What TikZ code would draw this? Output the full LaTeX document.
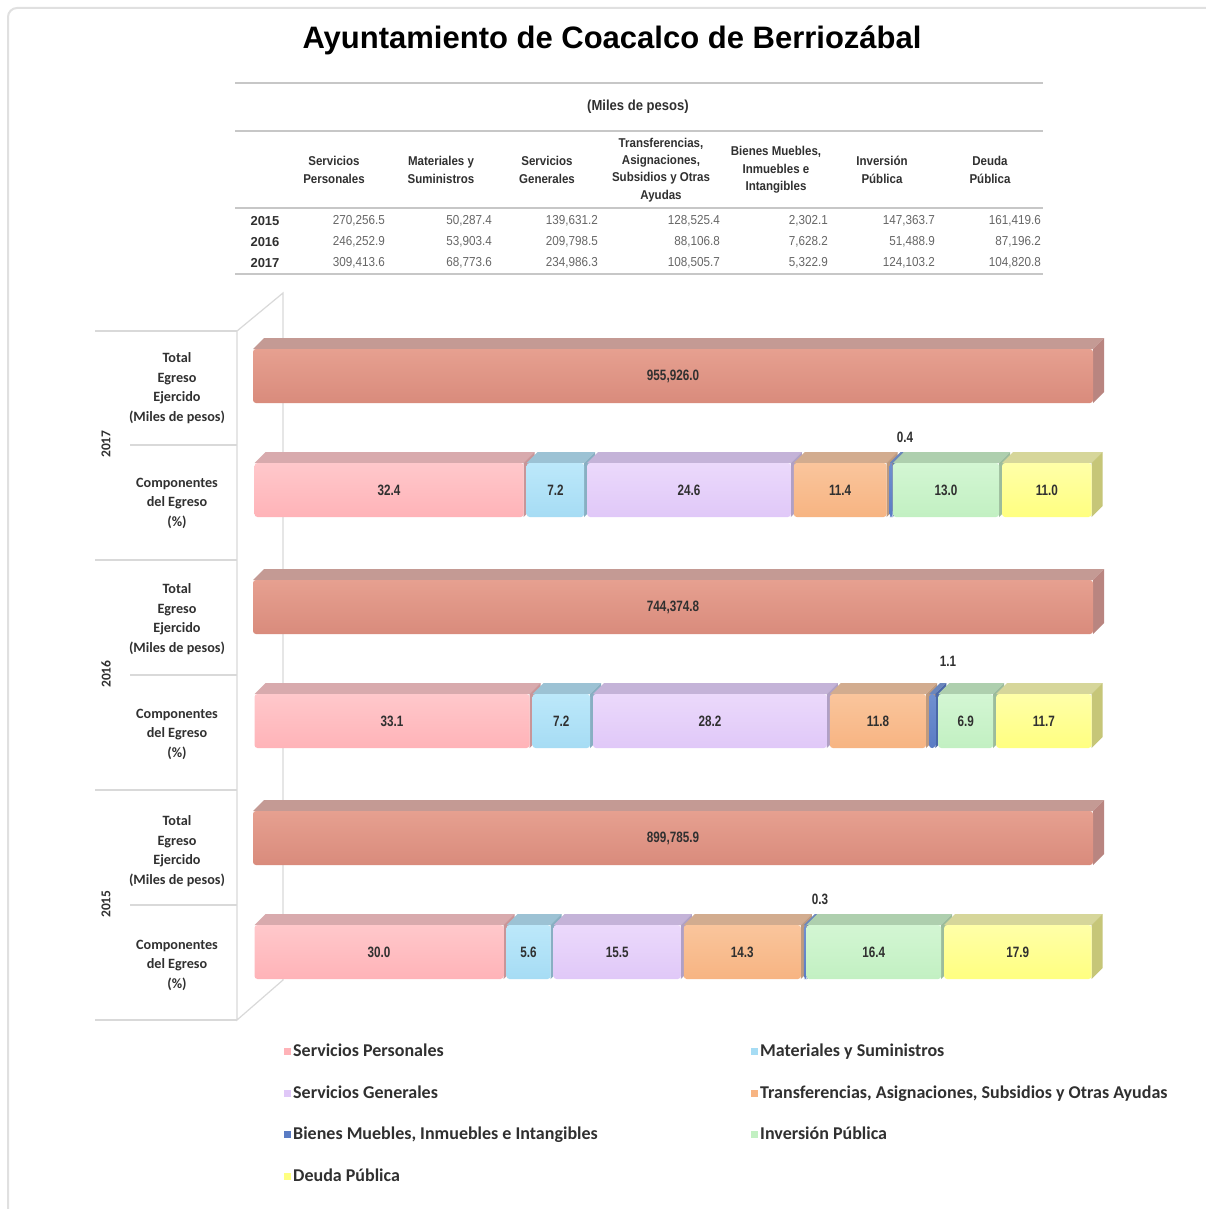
\documentclass[tikz,border=0pt]{standalone}
\usepackage{fontspec}
\setmainfont{Liberation Sans}
\newfontfamily\carl{Carlito}
\newfontfamily\narrowb[FakeStretch=0.78]{Liberation Sans}
\newfontfamily\narrowt[FakeStretch=0.9]{Liberation Sans}
\definecolor{tot}{HTML}{D98B7C}\definecolor{tothi}{HTML}{E6A090}\definecolor{tottop}{HTML}{C49A94}\definecolor{totside}{HTML}{B98580}
\definecolor{sp}{HTML}{FFB3B8}\definecolor{sphi}{HTML}{FFC8CB}\definecolor{sptop}{HTML}{D8AAAD}\definecolor{spside}{HTML}{C99598}
\definecolor{mat}{HTML}{A6DCF4}\definecolor{mathi}{HTML}{BCE8FA}\definecolor{mattop}{HTML}{9CC2D4}\definecolor{matside}{HTML}{88AFC2}
\definecolor{gen}{HTML}{E0C8F8}\definecolor{genhi}{HTML}{EBD9FB}\definecolor{gentop}{HTML}{C4B3D8}\definecolor{genside}{HTML}{B0A0C5}
\definecolor{tra}{HTML}{F7B482}\definecolor{trahi}{HTML}{FAC59C}\definecolor{tratop}{HTML}{D2AC8F}\definecolor{traside}{HTML}{BE9A7E}
\definecolor{bie}{HTML}{5A7CC4}\definecolor{biehi}{HTML}{7090D0}\definecolor{bietop}{HTML}{6A86BC}\definecolor{bieside}{HTML}{4A68A8}
\definecolor{inv}{HTML}{C2F0C2}\definecolor{invhi}{HTML}{D3F6D3}\definecolor{invtop}{HTML}{AECFAE}\definecolor{invside}{HTML}{9CBC9C}
\definecolor{deu}{HTML}{FFFF80}\definecolor{deuhi}{HTML}{FFFFA8}\definecolor{deutop}{HTML}{D6D69A}\definecolor{deuside}{HTML}{C6C678}
\definecolor{txt}{HTML}{303030}
\newcommand\bbox[4]{%
  \fill[#4top] (#1,#3-27) -- (#1+11,#3-38) -- (#2+11,#3-38) -- (#2,#3-27) -- cycle;
  \fill[#4side] (#2,#3-27) -- (#2+11,#3-38) -- (#2+11,#3+16) -- (#2,#3+27) -- cycle;
  \shade[top color=#4hi, bottom color=#4, rounded corners=3] (#1,#3-27) rectangle (#2,#3+27);
}
\newcommand\seg[6]{%
  \pgfmathsetmacro\xa{253+8.4*#1+1.5}
  \pgfmathsetmacro\xb{max(253+8.4*#2-1.5,\xa+3)}
  \bbox{\xa}{\xb}{#3}{#4}
  \node[barlbl] (#6) at ({(\xa+\xb)/2},#3) {#5};
}
\tikzset{
  barlbl/.style={font=\narrowb\bfseries\fontsize{15}{17}\selectfont, text=txt, inner sep=0},
  tline/.style={draw=black!22, line width=2},
  pline/.style={draw=black!15, line width=1.2},
  hdr/.style={font=\narrowt\bfseries\fontsize{12.8}{17.3}\selectfont, align=center, inner sep=0, text=txt},
  val/.style={font=\narrowt\fontsize{13}{15}\selectfont, text=black!60, anchor=east, inner sep=0},
  tyr/.style={font=\bfseries\fontsize{13}{15}\selectfont, text=txt, inner sep=0},
  rowlbl/.style={font=\carl\bfseries\fontsize{14.2}{19.5}\selectfont, align=center, inner sep=0, text=txt},
  ryear/.style={font=\carl\bfseries\fontsize{13.5}{15}\selectfont, rotate=90, inner sep=0, text=txt},
  leg/.style={font=\carl\bfseries\fontsize{18}{20}\selectfont, anchor=base west, inner sep=0, text=txt},
  legsq/.style={minimum size=7, inner sep=0}
}
\begin{document}
\begin{tikzpicture}[x=1pt,y=-1pt]
\useasboundingbox (0,0) rectangle (1205,1209);
\fill[white] (0,0) rectangle (1205,1209);
% outer frame
\draw[black!12, line width=2, rounded corners=9] (8,1212) -- (8,8) -- (1230,8);
% title
\node[font=\bfseries\fontsize{31}{36}\selectfont, inner sep=0] (title) at (612,40) {Ayuntamiento de Coacalco de Berriozábal};
% table
\draw[tline] (235,83) -- (1043,83);
\draw[tline] (235,131) -- (1043,131);
\draw[tline] (235,208) -- (1043,208);
\draw[tline] (235,274) -- (1043,274);
\node[hdr, font=\narrowt\bfseries\fontsize{14.5}{16}\selectfont] (miles) at (638,107) {(Miles de pesos)};
\node[hdr] (h1) at (334,170) {Servicios\\Personales};
\node[hdr] (h2) at (441,170) {Materiales y\\Suministros};
\node[hdr] (h3) at (547,170) {Servicios\\Generales};
\node[hdr] (h4) at (661,170) {Transferencias,\\Asignaciones,\\Subsidios y Otras\\Ayudas};
\node[hdr] (h5) at (776,170) {Bienes Muebles,\\Inmuebles e\\Intangibles};
\node[hdr] (h6) at (882,170) {Inversión\\Pública};
\node[hdr] (h7) at (990,170) {Deuda\\Pública};
\node[tyr] (y15) at (265,221) {2015};
\node[tyr] (y16) at (265,242) {2016};
\node[tyr] (y17) at (265,263) {2017};
\node[val] (v151) at (385,221) {270,256.5};
\node[val] (v152) at (492,221) {50,287.4};
\node[val] (v153) at (598,221) {139,631.2};
\node[val] (v154) at (720,221) {128,525.4};
\node[val] (v155) at (828,221) {2,302.1};
\node[val] (v156) at (935,221) {147,363.7};
\node[val] (v157) at (1041,221) {161,419.6};
\node[val] (v161) at (385,242) {246,252.9};
\node[val] (v162) at (492,242) {53,903.4};
\node[val] (v163) at (598,242) {209,798.5};
\node[val] (v164) at (720,242) {88,106.8};
\node[val] (v165) at (828,242) {7,628.2};
\node[val] (v166) at (935,242) {51,488.9};
\node[val] (v167) at (1041,242) {87,196.2};
\node[val] (v171) at (385,263) {309,413.6};
\node[val] (v172) at (492,263) {68,773.6};
\node[val] (v173) at (598,263) {234,986.3};
\node[val] (v174) at (720,263) {108,505.7};
\node[val] (v175) at (828,263) {5,322.9};
\node[val] (v176) at (935,263) {124,103.2};
\node[val] (v177) at (1041,263) {104,820.8};
% left panel
\draw[pline] (237,1020) -- (237,331) -- (283,293) -- (283,980) -- cycle;
\draw[pline] (95,331) -- (237,331);
\draw[pline] (130,445) -- (237,445);
\draw[pline] (95,560) -- (237,560);
\draw[pline] (130,675) -- (237,675);
\draw[pline] (95,790) -- (237,790);
\draw[pline] (130,905) -- (237,905);
\draw[pline] (95,1020) -- (237,1020);
\node[ryear] (r17) at (106,444) {2017};
\node[ryear] (r16) at (106,674) {2016};
\node[ryear] (r15) at (106,904) {2015};
\node[rowlbl] (t17) at (177,388) {Total\\Egreso\\Ejercido\\(Miles de pesos)};
\node[rowlbl] (c17) at (177,503) {Componentes\\del Egreso\\(\%)};
\node[rowlbl] (t16) at (177,619) {Total\\Egreso\\Ejercido\\(Miles de pesos)};
\node[rowlbl] (c16) at (177,734) {Componentes\\del Egreso\\(\%)};
\node[rowlbl] (t15) at (177,851) {Total\\Egreso\\Ejercido\\(Miles de pesos)};
\node[rowlbl] (c15) at (177,965) {Componentes\\del Egreso\\(\%)};
% 2017
\bbox{253}{1093}{376}{tot}
\node[barlbl] (b17t) at (673,376) {955,926.0};
\seg{0}{32.4}{490}{sp}{32.4}{b17a}
\seg{32.4}{39.6}{490}{mat}{7.2}{b17b}
\seg{39.6}{64.2}{490}{gen}{24.6}{b17c}
\seg{64.2}{75.6}{490}{tra}{11.4}{b17d}
\seg{75.6}{76.0}{490}{bie}{}{b17e}
\seg{76.0}{89.0}{490}{inv}{13.0}{b17f}
\seg{89.0}{100}{490}{deu}{11.0}{b17g}
\node[barlbl] (s17) at (905,437) {0.4};
% 2016
\bbox{253}{1093}{607}{tot}
\node[barlbl] (b16t) at (673,607) {744,374.8};
\seg{0}{33.1}{721}{sp}{33.1}{b16a}
\seg{33.1}{40.3}{721}{mat}{7.2}{b16b}
\seg{40.3}{68.5}{721}{gen}{28.2}{b16c}
\seg{68.5}{80.3}{721}{tra}{11.8}{b16d}
\seg{80.3}{81.4}{721}{bie}{}{b16e}
\seg{81.4}{88.3}{721}{inv}{6.9}{b16f}
\seg{88.3}{100}{721}{deu}{11.7}{b16g}
\node[barlbl] (s16) at (948,661) {1.1};
% 2015
\bbox{253}{1093}{838}{tot}
\node[barlbl] (b15t) at (673,838) {899,785.9};
\seg{0}{30.0}{952}{sp}{30.0}{b15a}
\seg{30.0}{35.6}{952}{mat}{5.6}{b15b}
\seg{35.6}{51.1}{952}{gen}{15.5}{b15c}
\seg{51.1}{65.4}{952}{tra}{14.3}{b15d}
\seg{65.4}{65.7}{952}{bie}{}{b15e}
\seg{65.7}{82.1}{952}{inv}{16.4}{b15f}
\seg{82.1}{100}{952}{deu}{17.9}{b15g}
\node[barlbl] (s15) at (820,899) {0.3};
% legend
\node[legsq, fill=sp] (q1) at (287,1051) {};
\node[leg] (l1) at (293,1056) {Servicios Personales};
\node[legsq, fill=mat] (q2) at (754,1051) {};
\node[leg] (l2) at (760,1056) {Materiales y Suministros};
\node[legsq, fill=gen] (q3) at (287,1093) {};
\node[leg] (l3) at (293,1098) {Servicios Generales};
\node[legsq, fill=tra] (q4) at (754,1093) {};
\node[leg] (l4) at (760,1098) {Transferencias, Asignaciones, Subsidios y Otras Ayudas};
\node[legsq, fill=bie] (q5) at (287,1134) {};
\node[leg] (l5) at (293,1139) {Bienes Muebles, Inmuebles e Intangibles};
\node[legsq, fill=inv] (q6) at (754,1134) {};
\node[leg] (l6) at (760,1139) {Inversión Pública};
\node[legsq, fill=deu] (q7) at (287,1176) {};
\node[leg] (l7) at (293,1181) {Deuda Pública};
\end{tikzpicture}
\end{document}
